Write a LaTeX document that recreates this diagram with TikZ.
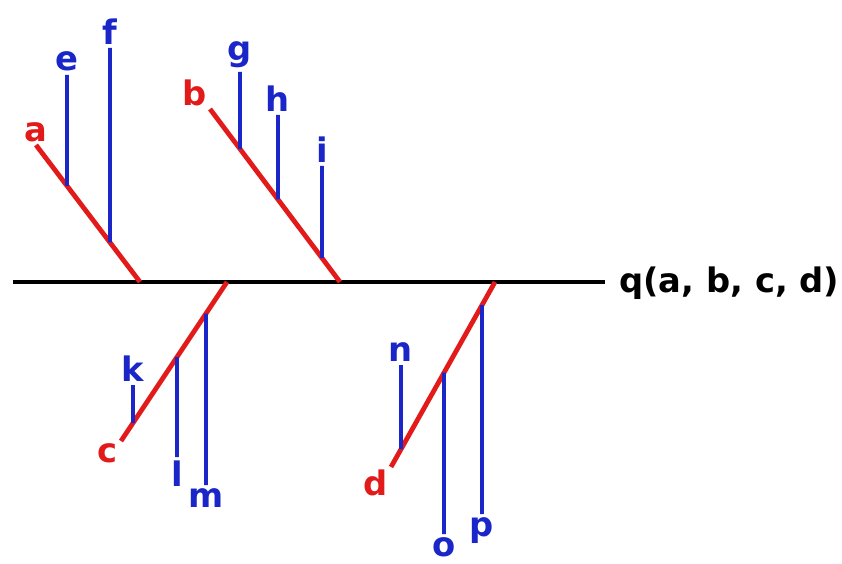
\documentclass[tikz,border=0pt]{standalone}
\usepackage{fontspec}
\setmainfont{DejaVu Sans}
\definecolor{spinered}{RGB}{226,26,26}
\definecolor{ribblue}{RGB}{26,38,200}
\begin{document}
\begin{tikzpicture}[x=0.025cm,y=-0.025cm,
  % labels: red = terms on the main line, blue = their arguments
  rlbl/.style={text=spinered, inner sep=2pt, font=\fontsize{24}{28}\selectfont\bfseries},
  blbl/.style={text=ribblue, inner sep=2.5pt, font=\fontsize{24}{28}\selectfont\bfseries},
  % strokes
  axis/.style={line width=3.4pt, black},
  spine/.style={line width=3.4pt, spinered},
  rib/.style={line width=2.6pt, ribblue},
  ]
  \useasboundingbox (0,0) rectangle (842,564);
  % ---- main horizontal line and its label -----------------------------------------
  \coordinate (ax0) at (13,282);
  \node[anchor=base west, inner xsep=10pt, font=\fontsize{24}{28}\selectfont\bfseries]
    (q) at (605,292) {q(a, b, c, d)};
  \draw[axis] (ax0) -- (ax0 -| q.west);
  % where the red terms meet the main line
  \coordinate (qa) at (140,282);
  \coordinate (qc) at (227,282);
  \coordinate (qb) at (340,282);
  \coordinate (qd) at (495,282);
  % ---- red terms ------------------------------------------------------------------
  \node[rlbl, anchor=south]       (a) at (36,145)  {a};
  \node[rlbl, anchor=south east]  (b) at (210,109) {b};
  \node[rlbl, anchor=north east]  (c) at (121,441) {c};
  \node[rlbl, anchor=north east]  (d) at (391,467) {d};
  \draw[spine] (a.south) -- (qa);
  \draw[spine] (b.south east) -- (qb);
  \draw[spine] (c.north east) -- (qc);
  \draw[spine] (d.north east) -- (qd);
  % ---- blue arguments, labels above their line ------------------------------------
  \node[blbl, anchor=south] (e) at (67,75)   {e};
  \node[blbl, anchor=south] (f) at (110,48)  {f};
  \node[blbl, anchor=south] (g) at (240,72)  {g};
  \node[blbl, anchor=south] (h) at (278,115) {h};
  \node[blbl, anchor=south] (i) at (322,166) {i};
  \node[blbl, anchor=south] (k) at (133,385) {k};
  \node[blbl, anchor=south] (n) at (401,365) {n};
  % ---- blue arguments, labels below their line ------------------------------------
  \node[blbl, anchor=north] (l) at (177,457) {l};
  \node[blbl, anchor=north] (m) at (206,485) {m};
  \node[blbl, anchor=north] (o) at (444,534) {o};
  \node[blbl, anchor=north] (p) at (482,514) {p};
  % feet of the blue lines on the red ones
  \coordinate (e1) at (intersection of a.south--qa and e.south--e.north);
  \coordinate (f1) at (intersection of a.south--qa and f.south--f.north);
  \coordinate (g1) at (intersection of b.south east--qb and g.south--g.north);
  \coordinate (h1) at (intersection of b.south east--qb and h.south--h.north);
  \coordinate (i1) at (intersection of b.south east--qb and i.south--i.north);
  \coordinate (k1) at (intersection of c.north east--qc and k.south--k.north);
  \coordinate (l1) at (intersection of c.north east--qc and l.south--l.north);
  \coordinate (m1) at (intersection of c.north east--qc and m.south--m.north);
  \coordinate (n1) at (intersection of d.north east--qd and n.south--n.north);
  \coordinate (o1) at (intersection of d.north east--qd and o.south--o.north);
  \coordinate (p1) at (intersection of d.north east--qd and p.south--p.north);
  \foreach \arg in {e,f,g,h,i,k,l,m,n,o,p}
    \draw[rib] (\arg) -- (\arg1);
\end{tikzpicture}
\end{document}
